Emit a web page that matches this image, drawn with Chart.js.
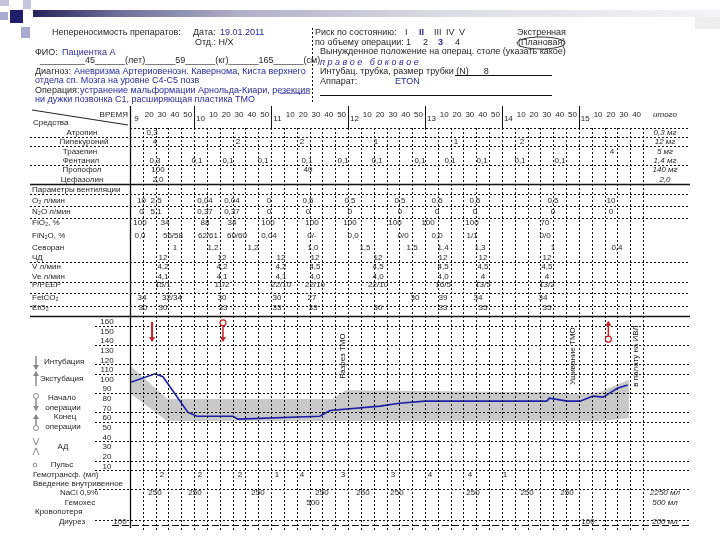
<!DOCTYPE html>
<html><head><meta charset="utf-8">
<script src="https://cdn.jsdelivr.net/npm/chart.js@4.4.1/dist/chart.umd.min.js"></script>
<style>html,body{margin:0;padding:0;background:#fff;width:720px;height:540px;overflow:hidden}canvas{display:block}</style>
</head><body><canvas id="c" width="720" height="540"></canvas>
<script>
// ---- time axis: 10-minute slots, slot 0 = 9:10 ... slot 40 = 15:50
const timeLabels = ["9","20","30","40","50","10","10","20","30","40","50","11","10","20","30","40","50","12","10","20","30","40","50","13","10","20","30","40","50","14","10","20","30","40","50","15","10","20","30","40"];
const hourSlots = [0,5,11,17,23,29,35];
const yTicks = [160,150,140,130,120,110,100,90,80,70,60,50,40,30,20,10];

// ---- vitals (slot, value)
const pulseTimes  = [0,1.95,2.57,4.52,5.22,8.03,8.42,14.8,15.6,19.5,21.0,23.0,32.5,32.7,34.1,35.1,36.1,36.9,38.0,38.8];
const pulseValues = [97,106,103,66,62,62,59,62,68,72.5,75.5,77.7,77.7,80.8,77.7,77.7,82.9,81.9,91,94.4];
const bandTimes = [0,2.9,15.8,16.8,32,35,36.6,38.9];
const bandHigh  = [115,80,80,89,87,85,87,100];
const bandLow   = [86,57,57,57,57,57,57,60];

// ---- events
const eventTimes = [1.72,7.25,37.3];
const eventKinds = ["intub","start","end"];
const noteTimes = [16.6,34.5,39.4];
const noteTexts = ["Разрез ТМО","Ушивание ТМО","в палату на ИВЛ"];

// ---- drugs (slot, dose)
const atropineTimes = [1.72];            const atropineDoses = ["0,3"];
const pipecTimes = [1.95,8.42,13.41,19.18,25.42,30.57]; const pipecDoses = ["4","2","2","1","1","2"];
const trazTimes = [37.58];               const trazDoses = ["4"];
const fentTimes = [1.95,5.22,7.64,10.37,13.8,16.61,19.26,22.61,24.95,27.45,30.41,33.53];
const fentDoses = ["0,3","0,1","0,1","0,1","0,1","0,1","0,1","0,1","0,1","0,1","0,1","0,1"];
const propTimes = [2.18,13.88];          const propDoses = ["100","40"];
const cefTimes = [2.18];                 const cefDoses = ["2,0"];
const drugTotals = ["0,3 мг","12 мг","5 мг","1,4 мг","140 мг","2,0"];

// ---- ventilation
const gasTimes = [0.9,2.03,5.85,7.95,10.84,13.88,17.15,21.05,23.94,26.9,32.98,37.5];
const o2Flow  = ["10","2,5","0,04","0,04","0","0,5","0,5","0,5","0,5","0,5","0,5","10"];
const n2oFlow = ["0","5,1","0,37","0,37","0","0","0","0","0","0","0","0"];
const fiTimes = [0.78,2.73,5.85,7.95,10.76,14.19,17.15,20.66,23.24,26.67,32.36];
const fio2 = ["100","34","88","34","100","100","100","100","100","100","70"];
const fin2oTimes = [0.78,3.35,6.08,8.34,10.84,14.19,17.39,21.29,23.94,26.67,32.36];
const fin2o = ["0,0","56/58","62/61","60/60","0,04","0/-","0,0","0/0","0,0","1/1","0/0"];
const sevoTimes = [3.51,6.47,9.59,14.27,18.32,21.99,24.41,27.29,32.98,37.97];
const sevo = ["1","1,2","1,2","1,0","1,5","1,5","1,4","1,3","1","0,4"];
const ventTimes = [2.57,7.17,11.77,14.42,19.34,24.41,27.52,32.51];
const rr   = ["12","12","12","12","12","12","12","12"];
const vMin = ["4,2","4,2","4,2","4,5","4,5","4,5","4,5","4,5"];
const veMin= ["4,1","4,1","4,1","4,0","4,0","4,0","4","4"];
const pPeep= ["15/1","11/2","22/10","22/10","22/10","16/5","13/5","13/2"];
const co2Times = [0.94,3.27,7.17,11.46,14.19,22.22,24.41,27.13,32.2];
const fetco2 = ["34","32/34","30","30","27","30","39","34","34"];
const etTimes = [1.01,2.57,7.25,11.46,14.27,19.34,24.41,27.52,32.51];
const eto2 = ["30","30","33","33","33","30","33","35","35"];

// ---- fluids
const sevMlTimes = [2.5,5.46,8.58,11.46,13.41,16.61,20.51,23.39,26.51,29.24];
const sevMl = ["2","2","2","1","4","3","3","4","4","1"];
const naclTimes = [1.95,5.07,9.98,14.97,18.17,20.82,26.74,30.96,34.07];
const nacl = ["250","250","250","250","250","250","250","250","250"];
const hesTimes = [14.27];   const hes = ["500"];
const diurTimes = [35.71];  const diur = ["100"];
const fluidTotals = ["2250 мл","500 мл","200 мл"];

const FONT = '"Liberation Sans", Arial, sans-serif';
function T(ctx, s, x, y, o) {
  o = o || {};
  ctx.save();
  ctx.font = (o.style||'normal') + ' ' + (o.weight||'normal') + ' ' + (o.size||8) + 'px ' + FONT;
  ctx.fillStyle = o.color || '#262626';
  ctx.textAlign = o.align || 'left';
  ctx.textBaseline = 'middle';
  ctx.fillText(s, x, y);
  ctx.restore();
}
function hline(ctx, x1, x2, y, dash, w) {
  ctx.save(); ctx.strokeStyle = '#111'; ctx.lineWidth = w||1; ctx.setLineDash(dash||[2,2]);
  ctx.beginPath(); ctx.moveTo(x1, Math.round(y)+0.5); ctx.lineTo(x2, Math.round(y)+0.5); ctx.stroke(); ctx.restore();
}
function vline(ctx, x, y1, y2, dash, w) {
  ctx.save(); ctx.strokeStyle = '#111'; ctx.lineWidth = w||1; ctx.setLineDash(dash||[2,2]);
  ctx.beginPath(); ctx.moveTo(Math.round(x)+0.5, y1); ctx.lineTo(Math.round(x)+0.5, y2); ctx.stroke(); ctx.restore();
}
function arrow(ctx, x, yFrom, yTo, color, w) {
  ctx.save(); ctx.strokeStyle = color; ctx.fillStyle = color; ctx.lineWidth = w;
  ctx.beginPath(); ctx.moveTo(x, yFrom); ctx.lineTo(x, yTo); ctx.stroke();
  const d = yTo > yFrom ? 1 : -1;
  ctx.beginPath(); ctx.moveTo(x-3, yTo-4*d); ctx.lineTo(x+3, yTo-4*d); ctx.lineTo(x, yTo+1*d); ctx.closePath(); ctx.fill();
  ctx.restore();
}
function circ(ctx, x, y, r, color, w) {
  ctx.save(); ctx.strokeStyle = color; ctx.fillStyle = '#fff'; ctx.lineWidth = w;
  ctx.beginPath(); ctx.arc(x, y, r, 0, Math.PI*2); ctx.fill(); ctx.stroke(); ctx.restore();
}

const sheet = {
  id: 'sheet',
  beforeDraw(chart) {
    const ctx = chart.ctx;
    ctx.save(); ctx.fillStyle = '#fff'; ctx.fillRect(0,0,720,540);
    // slide decoration
    const g = ctx.createLinearGradient(33,0,720,0);
    g.addColorStop(0,'#24245c'); g.addColorStop(0.12,'#6c6c98'); g.addColorStop(0.3,'#b0b0c8');
    g.addColorStop(0.6,'#dcdce6'); g.addColorStop(1,'#f4f4f6');
    ctx.fillStyle = g; ctx.fillRect(33,10,687,7);
    ctx.fillStyle = '#c4c4dc'; ctx.fillRect(0,0,9,6); ctx.fillRect(23,0,8,9);
    ctx.fillStyle = '#a9a9cf'; ctx.fillRect(21,27,9,11); ctx.fillRect(0,12,8,8);
    ctx.fillStyle = '#1e1e6a'; ctx.fillRect(10,10,13,13);
    ctx.fillStyle = '#eeeeef'; ctx.fillRect(695,17,25,12);
    ctx.restore();

    // ---- header info
    const blue = '#2b2b9c';
    T(ctx,'Непереносимость препаратов:',52,33,{size:9});
    T(ctx,'Дата:',193,33,{size:9}); T(ctx,'19.01.2011',220,33,{size:9,color:blue});
    T(ctx,'Отд.: Н/Х',195,43,{size:9});
    T(ctx,'ФИО:',35,53,{size:9}); T(ctx,'Пациентка А',62,53,{size:9,color:blue});
    T(ctx,'_________45______(лет)______59______(кг)______165______(см)',40,61,{size:9});
    T(ctx,'Диагноз:',35,72,{size:9}); T(ctx,'Аневризма Артериовенозн. Кавернома, Киста верхнего',74,72,{size:9,color:blue});
    T(ctx,'отдела сп. Мозга на уровне С4-С5 позв',35,81,{size:9,color:blue});
    T(ctx,'Операция:',35,91,{size:9}); T(ctx,'устранение мальформации Арнольда-Киари, резекция',80,91,{size:9,color:blue});
    T(ctx,'______',280,90,{size:9,color:blue});
    T(ctx,'ни дужки позвонка С1, расширяющая пластика ТМО',35,100,{size:9,color:blue});
    vline(ctx,312,28,104);
    T(ctx,'Риск по состоянию:',315,33,{size:9});
    T(ctx,'I',405,33,{size:9}); T(ctx,'II',419,33,{size:9,weight:'bold',color:blue});
    T(ctx,'III',434,33,{size:9}); T(ctx,'IV',446,33,{size:9}); T(ctx,'V',459,33,{size:9});
    T(ctx,'Экстренная',517,33,{size:9});
    T(ctx,'по объему операции:',315,43,{size:9});
    T(ctx,'1',406,43,{size:9}); T(ctx,'2',423,43,{size:9}); T(ctx,'3',438,43,{size:9,weight:'bold',color:blue}); T(ctx,'4',455,43,{size:9});
    T(ctx,'(Плановая)',518,43,{size:9});
    ctx.save(); ctx.strokeStyle='#333'; ctx.lineWidth=1; ctx.beginPath(); ctx.ellipse(541,43,24,6,0,0,Math.PI*2); ctx.stroke(); ctx.restore();
    T(ctx,'Вынужденное положение на операц. столе (указать какое)',320,52,{size:9});
    T(ctx,'п р а в о е   б о к о в о е',320,62,{size:9,style:'italic',color:blue});
    T(ctx,'Интубац. трубка, размер трубки (N)___8',320,72,{size:9});
    hline(ctx,455,552,75,[],1);
    T(ctx,'Аппарат:',320,82,{size:9}); T(ctx,'ETON',395,82,{size:9,color:blue});
    hline(ctx,320,552,95,[],1);
  },
  afterDatasetsDraw(chart) {
    const ctx = chart.ctx, xs = chart.scales.x, ys = chart.scales.y;
    const px = v => xs.getPixelForValue(v), py = v => ys.getPixelForValue(v);
    const L = 130, R = 690;

    // ---- grid
    for (let k = 1; k <= 40; k++) vline(ctx, px(k), 128, 530);
    hourSlots.forEach(k => { if (k > 0) vline(ctx, px(k), 106, 128, [], 1); });
    vline(ctx, L, 106, 528, [], 1.3);
    hline(ctx, L, R, 128);
    [137,146,165,194,206,218,262,282,293,306].forEach(y => hline(ctx, 30, R, y));
    hline(ctx, 30, R, 184, [], 1.5);
    hline(ctx, 30, R, 316, [], 1.5);
    [326,345,364,374,393,412,422,441,461,470,489,520].forEach(y => hline(ctx, 95, R, y));
    hline(ctx, 112, R, 525, [7,3]);
    ctx.save(); ctx.strokeStyle='#222'; ctx.lineWidth=1; ctx.beginPath(); ctx.moveTo(32,110); ctx.lineTo(128,125); ctx.stroke(); ctx.restore();

    // ---- header of time axis
    T(ctx,'ВРЕМЯ',128,115,{align:'right',size:8});
    timeLabels.forEach((s,k) => {
      const isHour = hourSlots.includes(k);
      T(ctx, s, px(k+0.5), isHour ? 119 : 115, {align:'center', size: 8});
    });
    T(ctx,'итого',665,115,{align:'center',size:8,style:'italic'});

    // ---- upper table
    const row = (label, y, times, vals, lx, lalign) => {
      T(ctx, label, lx, y, {align: lalign, size:8});
      if (times) times.forEach((t,i) => T(ctx, vals[i], px(t), y, {align:'center', size:8}));
    };
    row('Средства',123,null,null,33,'left');
    row('Атропин',133,atropineTimes,atropineDoses,82,'center');
    row('Пипекуроний',142,pipecTimes,pipecDoses,84,'center');
    row('Тразепин',152,trazTimes,trazDoses,80,'center');
    row('Фентанил',161,fentTimes,fentDoses,81,'center');
    row('Пропофол',170,propTimes,propDoses,82,'center');
    row('Цефазолин',180,cefTimes,cefDoses,82,'center');
    [133,142,152,161,170,180].forEach((y,i) => T(ctx, drugTotals[i], 665, y, {align:'center', size:8, style:'italic'}));
    row('Параметры вентиляции',190,null,null,32,'left');
    row('O₂ л/мин',201,gasTimes,o2Flow,32,'left');
    row('N₂O л/мин',212,gasTimes,n2oFlow,32,'left');
    row('FiO₂, %',223,fiTimes,fio2,32,'left');
    row('FiN₂O, %',236,fin2oTimes,fin2o,32,'left');
    row('Севоран',248,sevoTimes,sevo,32,'left');
    row('ЧД',258,ventTimes,rr,32,'left');
    row('V л/мин',267,ventTimes,vMin,32,'left');
    row('Ve л/мин',277,ventTimes,veMin,32,'left');
    row('P/PEEP',285,ventTimes,pPeep,32,'left');
    row('FetCO₂',298,co2Times,fetco2,32,'left');
    row('EtO₂',308,etTimes,eto2,32,'left');

    // ---- y ticks
    yTicks.forEach(v => T(ctx, String(v), 107, py(v), {align:'center', size:8}));

    // ---- legend on the left
    const lg = '#8a8a8a';
    arrow(ctx,36,356,369,lg,1.5); T(ctx,'Интубация',44,362,{size:8});
    arrow(ctx,36,386,372,lg,1.5); T(ctx,'Экстубация',40,379,{size:8});
    circ(ctx,36,396,2.5,lg,1); arrow(ctx,36,399,410,lg,1.5);
    T(ctx,'Начало',62,398,{align:'center',size:8}); T(ctx,'операции',63,408,{align:'center',size:8});
    arrow(ctx,36,425,415,lg,1.5); circ(ctx,36,428,2.5,lg,1);
    T(ctx,'Конец',65,417,{align:'center',size:8}); T(ctx,'операции',63,427,{align:'center',size:8});
    ctx.save(); ctx.strokeStyle=lg; ctx.lineWidth=1; ctx.beginPath();
    ctx.moveTo(33,438); ctx.lineTo(36,445); ctx.lineTo(39,438); ctx.moveTo(33,455); ctx.lineTo(36,448); ctx.lineTo(39,455); ctx.stroke(); ctx.restore();
    T(ctx,'АД',63,447,{align:'center',size:8});
    circ(ctx,35,465,1.8,lg,1); T(ctx,'Пульс',62,465,{align:'center',size:8});

    // ---- lower rows
    const lrow = (label, y, times, vals, lx, lalign) => {
      T(ctx, label, lx, y, {align: lalign, size:8});
      if (times) times.forEach((t,i) => T(ctx, vals[i], px(t), y, {align:'center', size:8}));
    };
    lrow('Гемотрансф. (мл)',475,sevMlTimes,sevMl,33,'left');
    lrow('Введение внутривенное',484,null,null,33,'left');
    lrow('NaCl 0,9%',493,naclTimes,nacl,79,'center');
    lrow('Гемохес',503,hesTimes,hes,80,'center');
    lrow('Кровопотеря',512,null,null,35,'left');
    lrow('Диурез',522,diurTimes,diur,72,'center');
    T(ctx,'100',120,522,{align:'center',size:8});
    [493,503,522].forEach((y,i) => T(ctx, fluidTotals[i], 665, y, {align:'center', size:8, style:'italic'}));

    // ---- event markers
    const red = '#c8202a';
    eventTimes.forEach((t,i) => {
      const x = px(t);
      if (eventKinds[i] === 'intub') arrow(ctx, x, py(160), py(140), red, 2);
      if (eventKinds[i] === 'start') { arrow(ctx, x, py(158), py(140), red, 1.5); circ(ctx, x, py(159), 3, red, 1.2); }
      if (eventKinds[i] === 'end')   { arrow(ctx, x, py(143), py(160), red, 1.5); circ(ctx, x, py(142), 3, red, 1.2); }
    });
    // ---- rotated notes
    noteTimes.forEach((t,i) => {
      ctx.save(); ctx.translate(px(t), 356); ctx.rotate(-Math.PI/2);
      ctx.font = '8px ' + FONT; ctx.fillStyle = '#111'; ctx.textAlign = 'center'; ctx.textBaseline = 'middle';
      ctx.fillText(noteTexts[i], 0, 0); ctx.restore();
    });
  }
};

new Chart(document.getElementById('c'), {
  type: 'line',
  data: {
    datasets: [
      { data: bandTimes.map((t,i) => ({x:t, y:bandLow[i]})), order: 3, borderWidth: 0, pointRadius: 0, fill: false, borderColor: 'rgba(0,0,0,0)' },
      { data: bandTimes.map((t,i) => ({x:t, y:bandHigh[i]})), order: 2, borderWidth: 0, pointRadius: 0, fill: '-1', backgroundColor: '#c9c9c9', borderColor: 'rgba(0,0,0,0)' },
      { data: pulseTimes.map((t,i) => ({x:t, y:pulseValues[i]})), order: 0, borderColor: '#1e1eaa', borderWidth: 1.6, pointRadius: 0, fill: false, tension: 0 }
    ]
  },
  options: {
    responsive: false, animation: false, devicePixelRatio: 1,
    layout: { padding: { left: 130, right: 77, top: 317, bottom: 64 } },
    plugins: { legend: { display: false }, tooltip: { enabled: false }, title: { display: false } },
    scales: {
      x: { type: 'linear', min: 0, max: 40, display: false },
      y: { type: 'linear', min: 0, max: 165, display: false }
    }
  },
  plugins: [sheet]
});
</script>
</body></html>
